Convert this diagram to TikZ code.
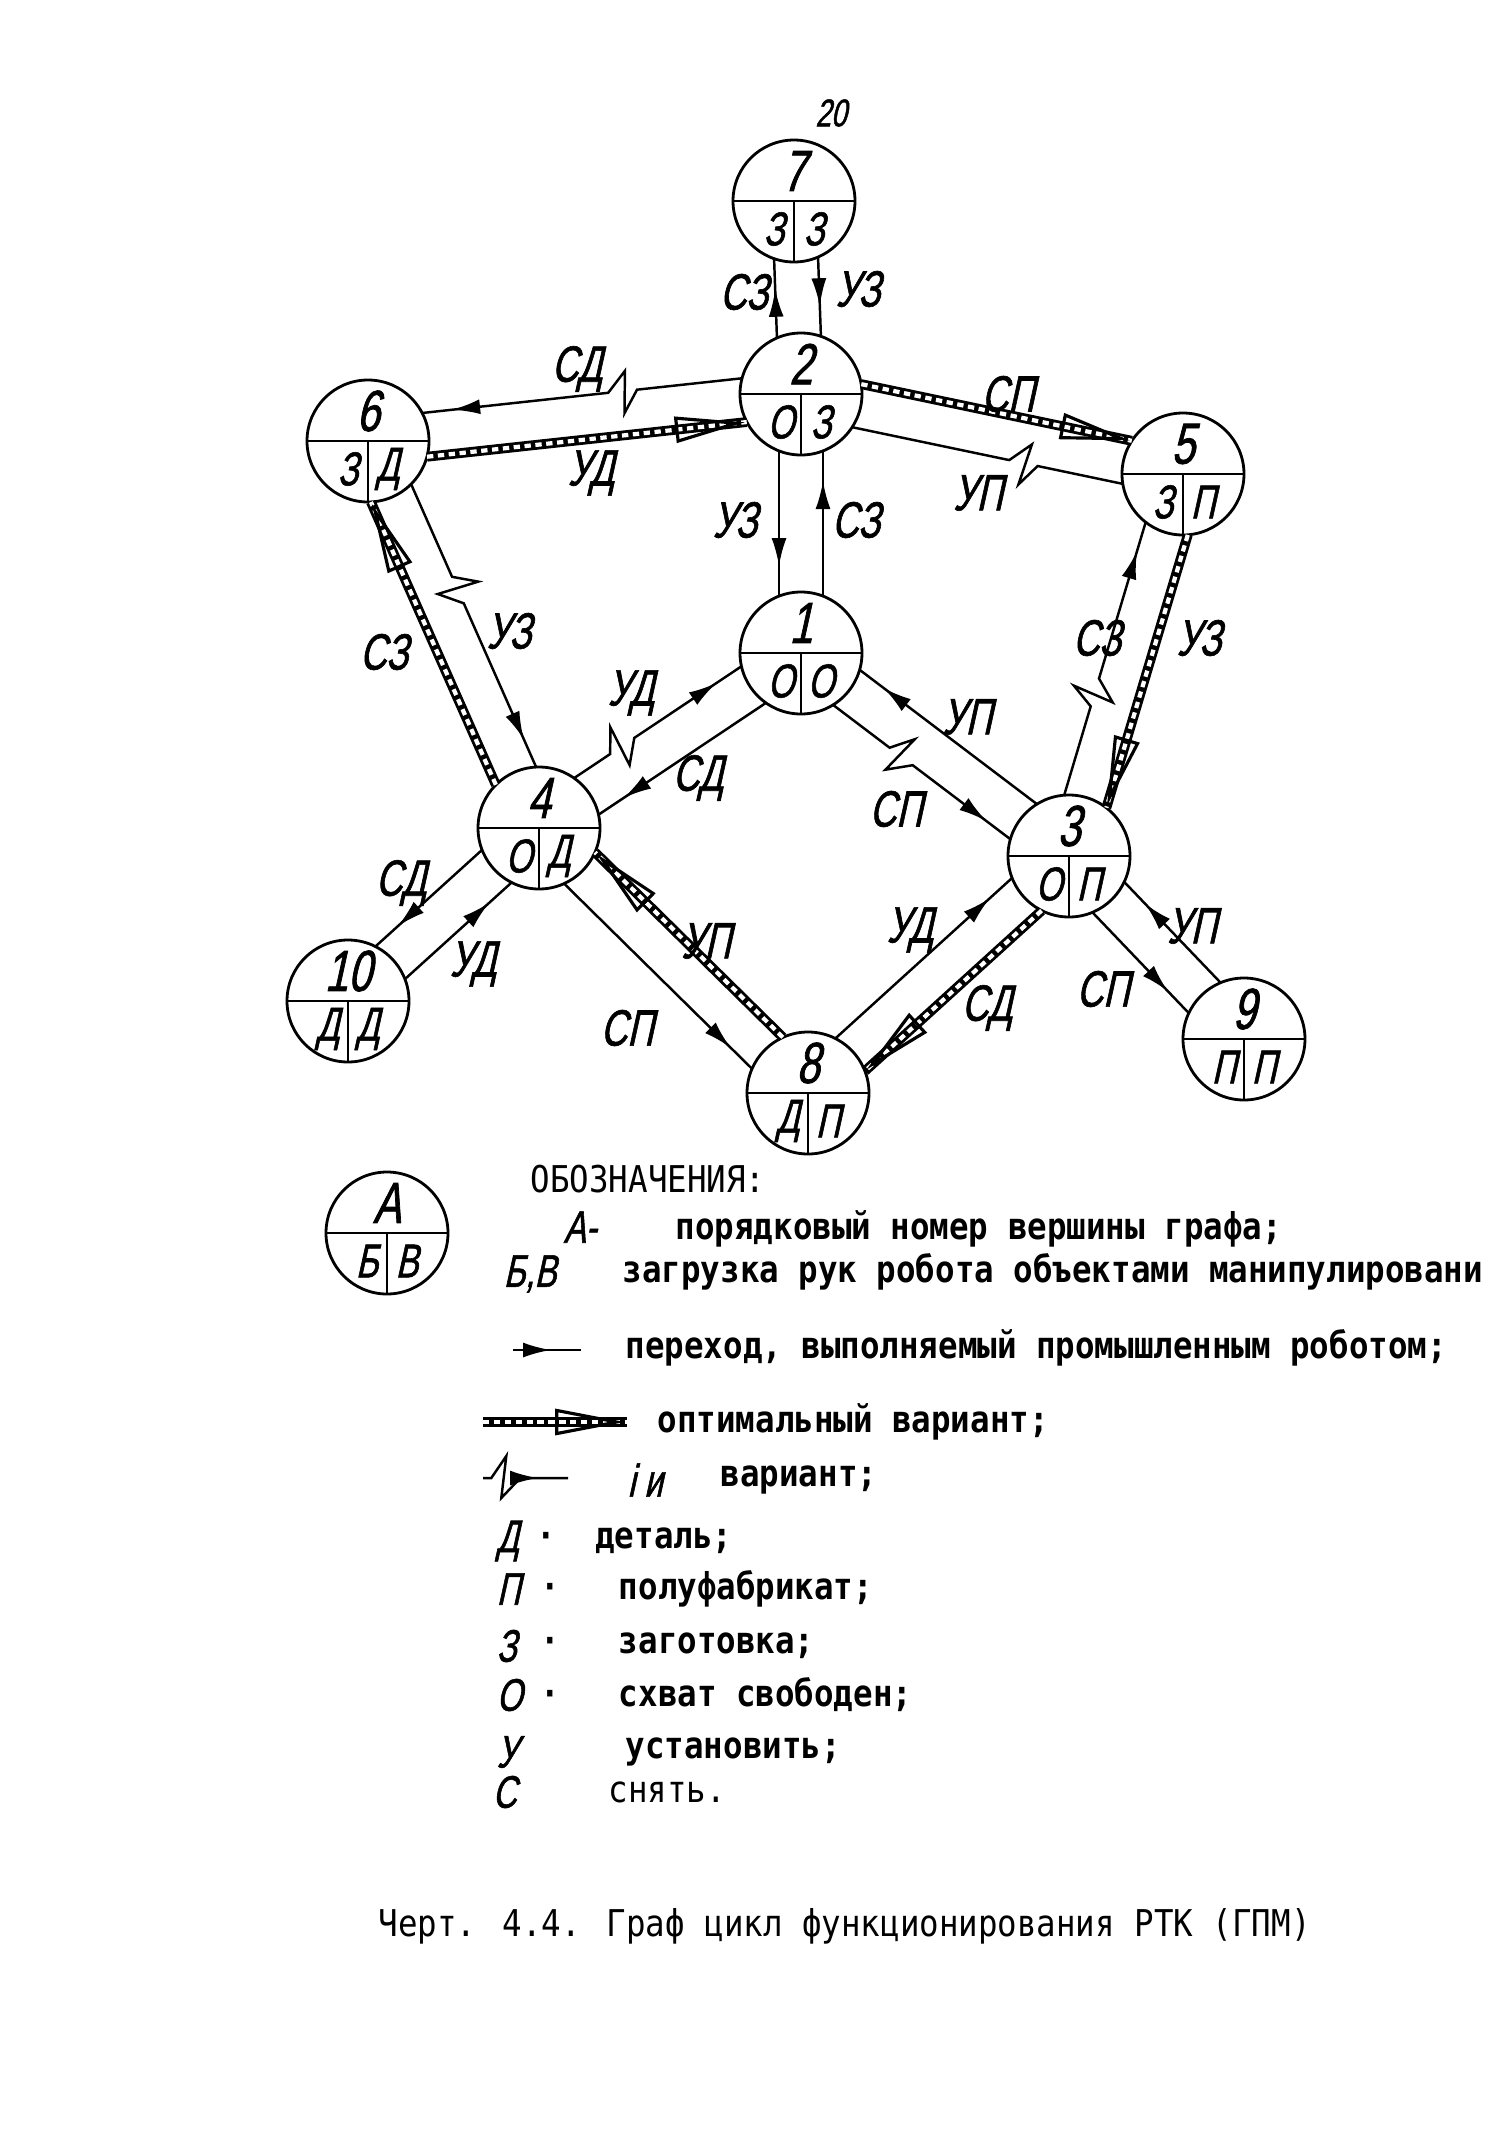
\documentclass[tikz,border=0pt]{standalone}
\usepackage{fontspec}
\setmainfont{Liberation Sans}
\newfontfamily\handfont[FakeStretch=0.72,FakeSlant=0.22,FakeBold=1.2]{Liberation Sans}
\newfontfamily\typefont[FakeStretch=0.88]{DejaVu Sans Mono}
\usetikzlibrary{arrows.meta,calc,decorations.markings}
% vertex of the graph: name, x, y, number, left load, right load
\newcommand{\rtkvertex}[6]{%
  \node[vtx] (#1) at (#2,#3) {};
  \draw[line width=0.8pt] (#1.west) -- (#1.east) (#1.center) -- (#1.south);
  \node[vnum] (#1t) at ($(#1)+(0,0.3)$) {#4};
  \node[vload] (#1l) at ($(#1)+(-0.2,-0.28)$) {#5};
  \node[vload] (#1r) at ($(#1)+(0.2,-0.28)$) {#6};}
% one lane of a band between two vertices (side: 90 left / -90 right)
\newcommand{\rtklane}[4][mv]{%
  \draw[#1] ($(#2)!0.57cm!(#3)!0.22cm!#4:(#3)$) -- ($(#3)!0.57cm!(#2)!0.22cm!#4:(#3)$);}
\newcommand{\rtkzigline}[4][mv]{%
  \path ($(#2)!#4!(#3)$) coordinate (zc);
  \draw[#1] (#2) -- ($(zc)!0.07cm!(#2)$) -- ($(zc)!0.08cm!(#3)!0.22cm!90:(#3)$)
    -- ($(zc)!0.03cm!(#3)!0.2cm!-90:(#3)$) -- ($(zc)!0.22cm!(#3)$) -- (#3);}
\newcommand{\rtkzig}[5][mv]{%
  \path ($(#2)!0.57cm!(#3)!0.22cm!#4:(#3)$) coordinate (za)
        ($(#3)!0.57cm!(#2)!0.22cm!#4:(#3)$) coordinate (zb);
  \rtkzigline[#1]{za}{zb}{#5}}

\begin{document}
\begin{tikzpicture}[
  bare/.style={line width=0.7pt},
  mv/.style={line width=0.7pt, postaction={decorate, decoration={markings,
      mark=at position -0.3cm with {\arrow{Latex[length=2.8mm,width=1.5mm]}}}}},
  opt/.style={line width=2.8pt,
      postaction={draw=white, line width=1.2pt, dash pattern=on 1.8pt off 1.3pt},
      postaction={decorate, decoration={markings,
      mark=at position -0.5pt with {\arrow{Triangle[open,length=7mm,width=2.6mm,line width=0.9pt]}}}}},
  vtx/.style={circle, draw, line width=0.8pt, fill=white, minimum size=1.22cm, inner sep=0pt},
  vnum/.style={font=\handfont\fontsize{16.5}{16.5}\selectfont, inner sep=0pt},
  vload/.style={font=\handfont\fontsize{13.5}{13.5}\selectfont, inner sep=0pt},
  lbl/.style={font=\handfont\fontsize{14.5}{14.5}\selectfont, inner sep=0pt},
  lgd/.style={font=\typefont\bfseries\fontsize{10.5}{12}\selectfont, anchor=west, inner sep=0pt},
  lsym/.style={font=\handfont\fontsize{13}{13}\selectfont, anchor=west, inner sep=0pt}]
\useasboundingbox (0,0) rectangle (15.10,-21.30);

\node[lbl, font=\handfont\fontsize{11}{11}\selectfont] (pgno) at (8.31,-1.13) {20};

% ── vertices
\rtkvertex{n7}{7.94}{-2.01}{7}{З}{З}
\rtkvertex{n2}{8.01}{-3.94}{2}{О}{З}
\rtkvertex{n6}{3.68}{-4.41}{6}{З}{Д}
\rtkvertex{n5}{11.83}{-4.74}{5}{З}{П}
\rtkvertex{n1}{8.01}{-6.53}{1}{О}{О}
\rtkvertex{n4}{5.39}{-8.28}{4}{О}{Д}
\rtkvertex{n3}{10.69}{-8.56}{3}{О}{П}
\rtkvertex{n10}{3.48}{-10.01}{10}{Д}{Д}
\rtkvertex{n8}{8.08}{-10.93}{8}{Д}{П}
\rtkvertex{n9}{12.44}{-10.39}{9}{П}{П}

% ── transitions
\rtklane{n2}{n7}{90}
\rtklane{n7}{n2}{90}
\rtklane{n2}{n1}{-90}
\rtklane{n1}{n2}{-90}
\rtkzig{n2}{n6}{-90}{0.35}
\rtklane[opt]{n6}{n2}{-90}
\rtklane[opt]{n2}{n5}{90}
\rtkzig[bare]{n5}{n2}{90}{0.34}
\rtklane[opt]{n4}{n6}{90}
\rtkzig{n6}{n4}{90}{0.35}
\rtkzig{n3}{n5}{90}{0.35}
\rtklane[opt]{n5}{n3}{90}
\rtkzig{n4}{n1}{90}{0.25}
\rtklane{n1}{n4}{90}
\rtklane{n3}{n1}{-90}
\rtkzig{n1}{n3}{-90}{0.35}
\rtklane{n4}{n10}{-90}
\rtklane{n10}{n4}{-90}
\rtklane{n4}{n8}{-90}
\rtklane[opt]{n8}{n4}{-90}
\rtklane{n8}{n3}{90}
\rtklane[opt]{n3}{n8}{90}
\rtklane{n3}{n9}{-90}
\rtklane{n9}{n3}{-90}

% ── lane labels
\node[lbl] (l1) at (7.44,-2.92) {СЗ};
\node[lbl] (l2) at (8.58,-2.89) {УЗ};
\node[lbl] (l3) at (5.77,-3.69) {СД};
\node[lbl] (l4) at (5.91,-4.73) {УД};
\node[lbl] (l5) at (10.08,-3.94) {СП};
\node[lbl] (l6) at (9.78,-4.93) {УП};
\node[lbl] (l7) at (7.35,-5.20) {УЗ};
\node[lbl] (l8) at (8.56,-5.20) {СЗ};
\node[lbl] (l9) at (3.84,-6.52) {СЗ};
\node[lbl] (l10) at (5.09,-6.31) {УЗ};
\node[lbl] (l11) at (10.97,-6.38) {СЗ};
\node[lbl] (l12) at (11.99,-6.38) {УЗ};
\node[lbl] (l13) at (6.31,-6.93) {УД};
\node[lbl] (l14) at (6.98,-7.78) {СД};
\node[lbl] (l15) at (9.67,-7.17) {УП};
\node[lbl] (l16) at (8.96,-8.09) {СП};
\node[lbl] (l17) at (4.01,-8.83) {СД};
\node[lbl] (l18) at (4.73,-9.64) {УД};
\node[lbl] (l19) at (7.06,-9.41) {УП};
\node[lbl] (l20) at (6.27,-10.28) {СП};
\node[lbl] (l21) at (9.10,-9.30) {УД};
\node[lbl] (l22) at (9.87,-10.08) {СД};
\node[lbl] (l23) at (11.92,-9.26) {УП};
\node[lbl] (l24) at (11.03,-9.89) {СП};

% ── legend
\rtkvertex{nA}{3.87}{-12.33}{А}{Б}{В}
\node[lgd, font=\typefont\fontsize{10.5}{12}\selectfont] (lgh) at (5.30,-11.79) {ОБОЗНАЧЕНИЯ:};
\node[lsym] (sA) at (5.63,-12.27) {А-};
\node[lgd] (tA) at (6.75,-12.29) {порядковый номер вершины графа;};
\node[lsym] (sBV) at (5.03,-12.74) {Б,В};
\node[lgd] (tBV) at (6.22,-12.72) {загрузка рук робота объектами манипулировани};
\coordinate (mvA) at (5.13,-13.50);
\coordinate (mvB) at (5.81,-13.50);
\draw[mv] (mvA) -- (mvB);
\node[lgd] (tmv) at (6.25,-13.48) {переход, выполняемый промышленным роботом;};
\coordinate (opA) at (4.83,-14.22);
\coordinate (opB) at (6.27,-14.22);
\draw[opt] (opA) -- (opB);
\node[lgd] (top) at (6.57,-14.22) {оптимальный вариант;};
\coordinate (zgA) at (4.83,-14.78);
\coordinate (zgB) at (5.68,-14.78);
\rtkzigline{zgA}{zgB}{0.18}
\node[lsym] (szg) at (6.27,-14.80) {i и};
\node[lgd] (tzg) at (7.20,-14.80) {вариант;};
\node[lsym] (sD) at (4.96,-15.41) {Д};
\node[lgd] (tD) at (5.36,-15.41) {·\ \ деталь;};
\node[lsym] (sP) at (4.96,-15.89) {П};
\node[lgd] (tP) at (5.40,-15.89) {·\ \ \ полуфабрикат;};
\node[lsym] (sZ) at (4.96,-16.46) {З};
\node[lgd] (tZ) at (5.40,-16.46) {·\ \ \ заготовка;};
\node[lsym] (sO) at (4.96,-16.95) {О};
\node[lgd] (tO) at (5.40,-16.95) {·\ \ \ схват свободен;};
\node[lsym] (sU) at (4.96,-17.52) {У};
\node[lgd] (tU) at (6.25,-17.52) {установить;};
\node[lsym] (sC) at (4.92,-17.92) {С};
\node[lgd, font=\typefont\fontsize{10.5}{12}\selectfont] (tC) at (6.08,-17.92) {снять.};

\node[lgd, font=\typefont\fontsize{10.5}{12}\selectfont] (cap) at (3.78,-19.26)
  {Черт. 4.4. Граф цикл функционирования РТК (ГПМ)};
\end{tikzpicture}
\end{document}
